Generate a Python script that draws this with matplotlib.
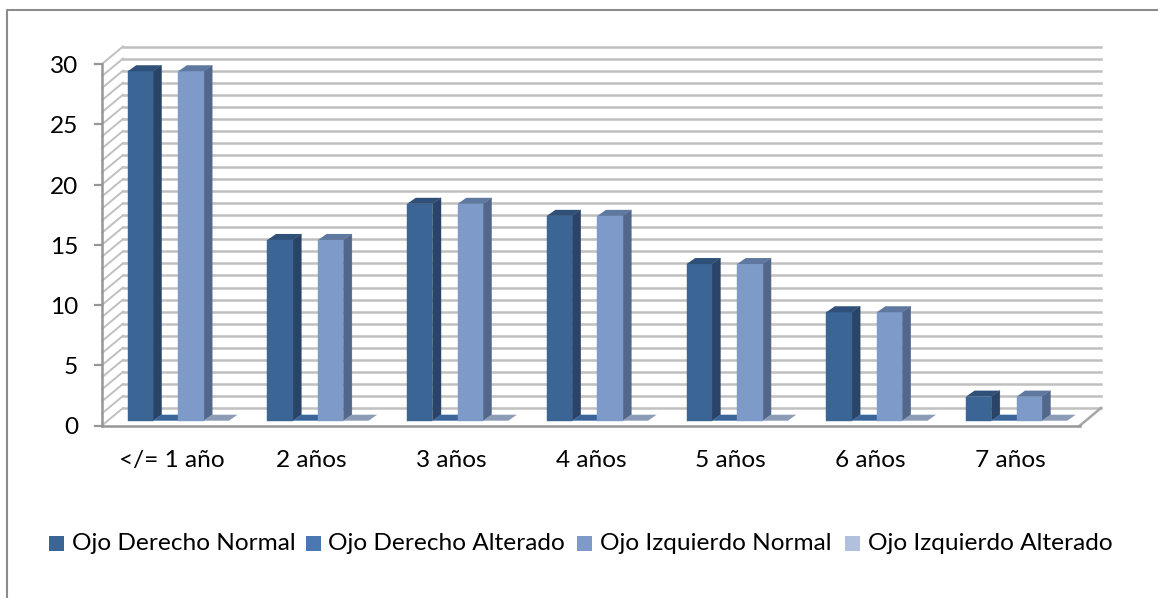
import matplotlib
matplotlib.use("Agg")
import matplotlib.pyplot as plt
from matplotlib.patches import Polygon, Rectangle

categories = ['</= 1 año', '2 años', '3 años', '4 años', '5 años', '6 años', '7 años']
ojo_der_normal = [29, 15, 18, 17, 13, 9, 2]
ojo_der_alterado = [0, 0, 0, 0, 0, 0, 0]
ojo_izq_normal = [29, 15, 18, 17, 13, 9, 2]
ojo_izq_alterado = [0, 0, 0, 0, 0, 0, 0]
names = ['Ojo Derecho Normal', 'Ojo Derecho Alterado', 'Ojo Izquierdo Normal', 'Ojo Izquierdo Alterado']
y_ticks = [0, 5, 10, 15, 20, 25, 30]

plt.rcParams['font.family'] = ['Lato', 'DejaVu Sans']

W, H = 1158, 598
fig = plt.figure(figsize=(W / 100, H / 100), dpi=100)

# front plane of the fake 3d box, in pixels
x0, x1, ytop, ybot = 102, 1080, 64, 425.5
ax = fig.add_axes([x0 / W, 1 - ybot / H, (x1 - x0) / W, (ybot - ytop) / H])
ax.set_xlim(0, 7)
ax.set_ylim(0, 30)
ax.axis('off')

px = 7 / (x1 - x0)          # one pixel in x units
py = 30 / (ybot - ytop)     # one pixel in y units
wall_dx, wall_dy = 21 * px, 17.5 * py
bar_dx, bar_dy = 8.5 * px, 6 * py
base = 4.8 * py
width = 25.3 * px
shift = 6.5 * px

grid_col = '#c0c0c0'
for v in range(31):
    ax.plot([0, wall_dx], [v, v + wall_dy], color=grid_col, lw=1.4, clip_on=False, zorder=1)
    ax.plot([wall_dx, 7 + wall_dx], [v + wall_dy, v + wall_dy], color=grid_col, lw=1.8, clip_on=False, zorder=1)
# floor edge on the right
ax.plot([7, 7 + wall_dx], [0, wall_dy], color='#a6a6a6', lw=1.8, clip_on=False, zorder=1)

series = [ojo_der_normal, ojo_der_alterado, ojo_izq_normal, ojo_izq_alterado]
front = ['#3b6595', '#4a78b0', '#7d9ac9', '#b0c0dd']
side = ['#294467', '#2f5480', '#53678a', '#7e8ea8']
top = ['#2f5078', '#3a659b', '#5f789f', '#8c9cb6']

for s, vals in enumerate(series):
    for c, v in enumerate(vals):
        left = c + 0.5 + shift + (s - 2) * width
        right = left + width
        ytp = base + v
        if v > 0:
            ax.add_patch(Polygon([(right, base), (right + bar_dx, base + bar_dy),
                                  (right + bar_dx, ytp + bar_dy), (right, ytp)],
                                 fc=side[s], ec=side[s], lw=0.3, zorder=3 + s))
            ax.add_patch(Rectangle((left, base), width, v, fc=front[s], ec=front[s], lw=0.3, zorder=3 + s))
        ax.add_patch(Polygon([(left, ytp), (left + bar_dx, ytp + bar_dy),
                              (right + bar_dx, ytp + bar_dy), (right, ytp)],
                             fc=top[s], ec='none', zorder=3 + s))

# axis lines and ticks
ax.plot([0, 0], [0, 30], color='#969696', lw=1.8, clip_on=False, zorder=10)
ax.plot([0, 7], [0, 0], color='#969696', lw=1.8, clip_on=False, zorder=10)
for v in y_ticks:
    ax.plot([-7 * px, 0], [v, v], color='#969696', lw=1.6, clip_on=False, zorder=10)
    ax.text(-24 * px, v - 2.5 * py, str(v), ha='right', va='center', fontsize=17.6, color='black')

for c, name in enumerate(categories):
    ax.text(c + 0.5, -35 * py, name, ha='center', va='center', fontsize=17.6, color='black')

# legend row, placed by hand like the office one
leg_x = [49, 306, 577, 845]
for name, col, lx in zip(names, front, leg_x):
    fig.patches.append(Rectangle((lx / W, 1 - 551 / H), 15 / W, 15 / H, transform=fig.transFigure,
                                 fc=col, ec='none'))
    fig.text((lx + 22.5) / W, 1 - 544 / H, name, ha='left', va='center', fontsize=17.6, color='black')

# chart frame
fig.add_artist(plt.Line2D([6.5 / W, 6.5 / W, 1], [0, 1 - 9.5 / H, 1 - 9.5 / H], color='#8c8c8c', lw=1.5))

fig.savefig('out.png', dpi=100, facecolor='white')
